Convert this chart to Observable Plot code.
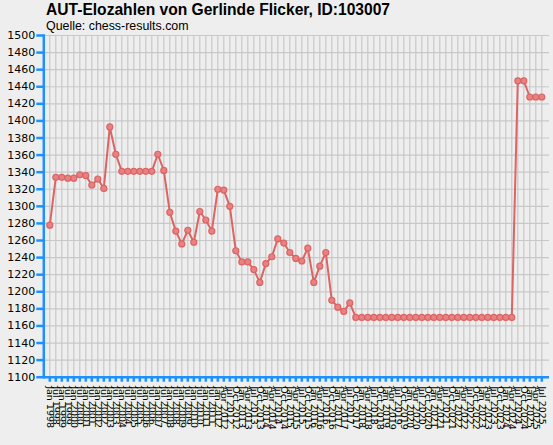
<!DOCTYPE html>
<html>
<head>
<meta charset="utf-8">
<script src="https://cdn.jsdelivr.net/npm/d3@7"></script>
<script src="https://cdn.jsdelivr.net/npm/@observablehq/plot@0.6"></script>
<style>
  html, body { margin: 0; padding: 0; background: #eeeeee; }
  #wrap { position: relative; width: 553px; height: 445px; background: #eeeeee; overflow: hidden; }
  #title { position: absolute; left: 46px; top: 1px; font: bold 15.6px "Liberation Sans", Arial, sans-serif; color: #000; white-space: nowrap; }
  #subtitle { position: absolute; left: 46px; top: 19px; font: 12.4px "Liberation Sans", Arial, sans-serif; color: #000; white-space: nowrap; }
  svg { display: block; }
</style>
</head>
<body>
<div id="wrap">
  <div id="chart"></div>
  <div id="title">AUT-Elozahlen von Gerlinde Flicker, ID:103007</div>
  <div id="subtitle">Quelle: chess-results.com</div>
</div>
<script>
const dates = [
  "Jan 1998","Jul 1998","Jan 1999","Jul 1999","Jan 2000","Jul 2000","Jan 2001","Jul 2001",
  "Jan 2002","Jul 2002","Jan 2003","Jul 2003","Jan 2004","Jul 2004","Jan 2005","Jul 2005",
  "Jan 2006","Jul 2006","Jan 2007","Jul 2007","Jan 2008","Jul 2008","Jan 2009","Jul 2009",
  "Jan 2010","Jul 2010","Jan 2011","Jul 2011",
  "Jan 2012","Apr 2012","Jul 2012","Oct 2012","Jan 2013","Apr 2013","Jul 2013","Oct 2013",
  "Jan 2014","Apr 2014","Jul 2014","Oct 2014","Jan 2015","Apr 2015","Jul 2015","Oct 2015",
  "Jan 2016","Apr 2016","Jul 2016","Oct 2016","Jan 2017","Apr 2017","Jul 2017","Oct 2017",
  "Jan 2018","Apr 2018","Jul 2018","Oct 2018","Jan 2019","Apr 2019","Jul 2019","Oct 2019",
  "Jan 2020","Apr 2020","Jul 2020","Oct 2020","Jan 2021","Apr 2021","Jul 2021","Oct 2021",
  "Jan 2022","Apr 2022","Jul 2022","Oct 2022","Jan 2023","Apr 2023","Jul 2023","Oct 2023",
  "Jan 2024","Apr 2024","Jul 2024","Oct 2024","Jan 2025","Apr 2025","Jul 2025"
];
const elo = [
  1278,1334,1334,1333,1333,1337,1336,1325,1332,1321,
  1393,1361,1341,1341,1341,1341,1341,1341,1361,1342,
  1293,1271,1256,1272,1258,1294,1284,1271,1320,1319,
  1300,1248,1235,1235,1226,1211,1233,1241,1262,1257,
  1246,1239,1236,1251,1211,1230,1246,1190,1182,1177,
  1187,1170,1170,1170,1170,1170,1170,1170,1170,1170,
  1170,1170,1170,1170,1170,1170,1170,1170,1170,1170,
  1170,1170,1170,1170,1170,1170,1170,1170,1447,1447,
  1428,1428,1428
];
const yTicks = [1100,1120,1140,1160,1180,1200,1220,1240,1260,1280,1300,1320,1340,1360,1380,1400,1420,1440,1460,1480,1500];

const data = dates.map((d, i) => ({date: d, elo: elo[i]}));
const blue = "#1e90ff";
const red = "#dc6464";

const chart = Plot.plot({
  width: 553,
  height: 445,
  marginTop: 35,
  marginBottom: 68.3,
  marginLeft: 43.3,
  marginRight: 4,
  style: {background: "#eeeeee", fontFamily: "DejaVu Sans, sans-serif", color: "#000"},
  x: {type: "point", domain: dates, range: [49.3, 541.3], padding: 0},
  y: {domain: [1100, 1500], ticks: yTicks},
  marks: [
    Plot.ruleX(dates, {x: d => d, stroke: "#c8c8c8", strokeWidth: 1.2}),
    Plot.ruleY(yTicks, {stroke: "#c8c8c8", strokeWidth: 1.2}),
    Plot.axisY({ticks: yTicks, tickFormat: d => String(d), tickSize: 7, tickPadding: 1.5, stroke: blue, strokeWidth: 2.5, strokeOpacity: 1, fill: "#000", fontSize: 11, label: null}),
    Plot.axisX({tickSize: 5, tickPadding: 4, tickRotate: 90, stroke: blue, strokeWidth: 2.5, strokeOpacity: 1, fill: "#000", fontSize: 9.5, label: null}),
    Plot.ruleY([1100], {stroke: blue, strokeWidth: 2.5}),
    Plot.frame({anchor: "left", stroke: blue, strokeWidth: 2.5}),
    Plot.line(data, {x: "date", y: "elo", stroke: red, strokeWidth: 2}),
    Plot.dot(data, {x: "date", y: "elo", r: 3, fill: "#e88282", stroke: red, strokeWidth: 1.2})
  ]
});
document.getElementById("chart").appendChild(chart);
</script>
</body>
</html>
